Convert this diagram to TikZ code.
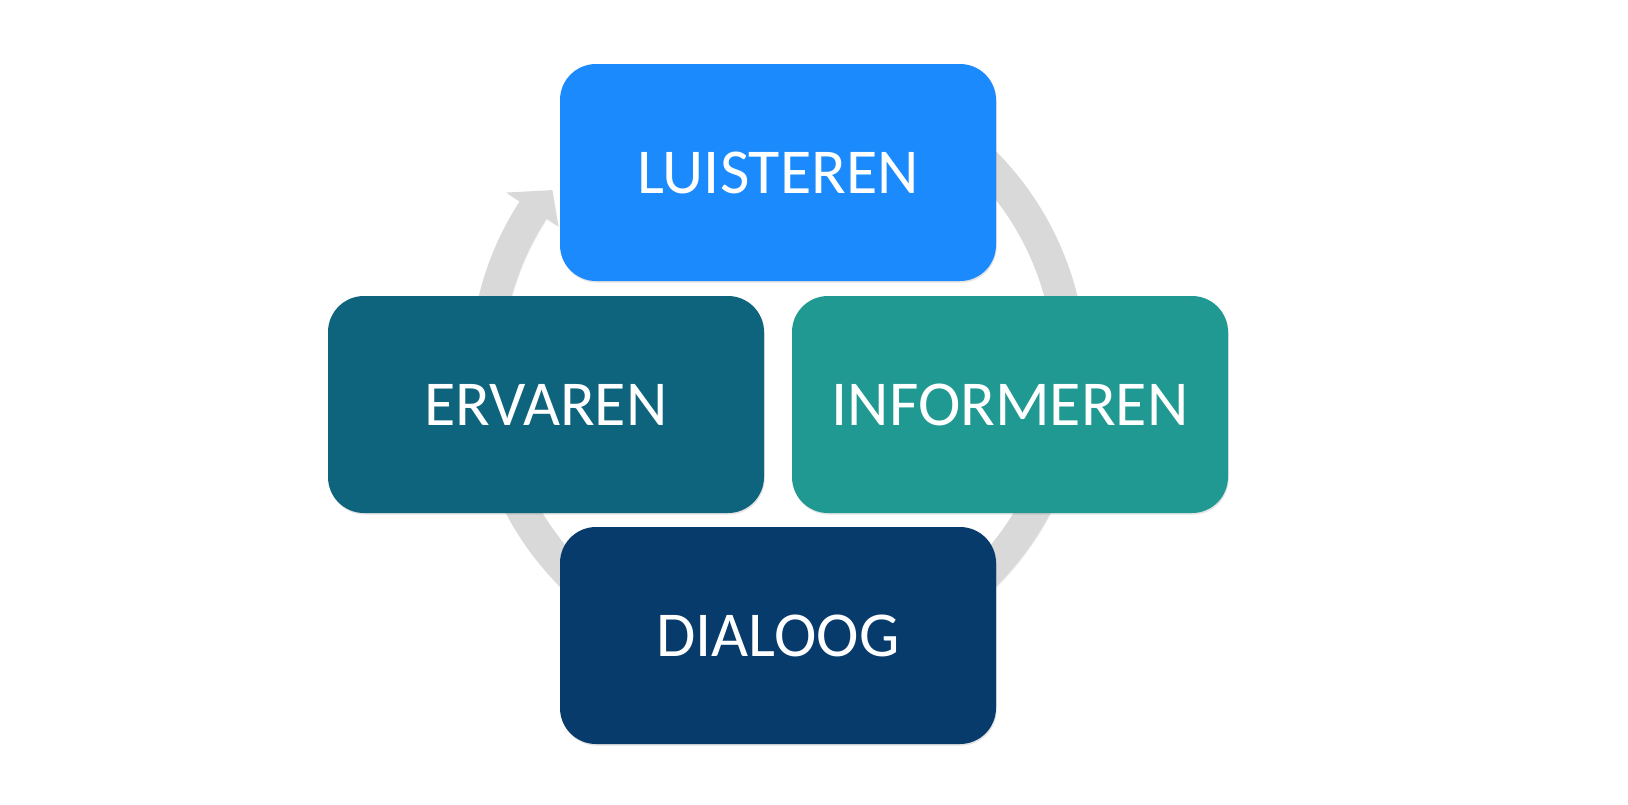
\documentclass[tikz,border=0pt]{standalone}
\usepackage{fontspec}
\setmainfont{Carlito}
\usepackage{xcolor}
\usetikzlibrary{shadows}

\definecolor{luisterblue}{RGB}{26,138,253}
\definecolor{ervarenteal}{RGB}{15,100,125}
\definecolor{informgreen}{RGB}{31,153,145}
\definecolor{dialoognavy}{RGB}{7,59,108}
\definecolor{ringgrey}{RGB}{217,217,217}

\begin{document}
\begin{tikzpicture}[x=0.75pt,y=0.75pt,yscale=-1,xscale=1,
  stepbox/.style={rectangle, rounded corners=27pt, minimum width=327pt, minimum height=162.75pt,
    inner sep=0pt, text=white, font=\fontsize{48}{58}\selectfont,
    drop shadow={opacity=0.22, shadow xshift=0.6pt, shadow yshift=-1.2pt}}]
%set diagram size 1628 x 804
\useasboundingbox (0,0) rectangle (1628,804);

%Shape: Circular Arrow
\begin{scope}[shift={(778,369)}, yscale=-1]
\fill[ringgrey, drop shadow={opacity=0.15, shadow xshift=0.4pt, shadow yshift=-0.8pt}]
  (75:308) arc[start angle=75, end angle=-213, radius=308] -- (-213:324) -- (-218.4:288)
  -- (-213:262) -- (-213:276) arc[start angle=-213, end angle=75, radius=276] -- cycle ;
\end{scope}

%Shape: Rounded Rect
\node [stepbox, fill=luisterblue] (luisteren) at (778,172.5) {LUISTEREN};
%Shape: Rounded Rect
\node [stepbox, fill=ervarenteal] (ervaren) at (546,404.5) {ERVAREN};
%Shape: Rounded Rect
\node [stepbox, fill=informgreen] (informeren) at (1010,404.5) {INFORMEREN};
%Shape: Rounded Rect
\node [stepbox, fill=dialoognavy] (dialoog) at (778,635.5) {DIALOOG};

\end{tikzpicture}
\end{document}
